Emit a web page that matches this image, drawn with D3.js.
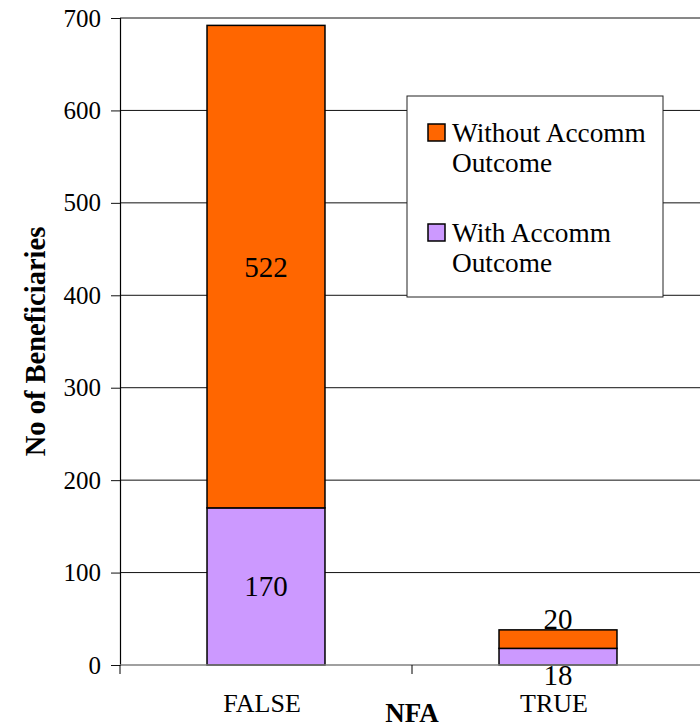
<!DOCTYPE html>
<html>
<head>
<meta charset="utf-8">
<script src="https://cdn.jsdelivr.net/npm/d3@7"></script>
<style>
  body { margin: 0; background: #fff; }
  svg { display: block; font-family: "Liberation Serif", "Times New Roman", serif; }
</style>
</head>
<body>
<div id="chart"></div>
<script>
var categories = ['FALSE', 'TRUE'];
var seriesNames = ['With Accomm Outcome', 'Without Accomm Outcome'];
var withAccomm = [170, 18];
var withoutAccomm = [522, 20];
var yTicks = [0, 100, 200, 300, 400, 500, 600, 700];
var colors = ['#CC99FF', '#FF6600'];

var width = 700, height = 728;
var plot = {left: 120, right: 704, top: 18, bottom: 665};

var svg = d3.select('#chart').append('svg')
  .attr('width', width)
  .attr('height', height);

var x = d3.scaleBand()
  .domain(categories)
  .range([plot.left, plot.right])
  .paddingInner(0.596)
  .paddingOuter(0.298);

var y = d3.scaleLinear()
  .domain([0, 700])
  .range([plot.bottom, plot.top]);

// gridlines
svg.append('g').selectAll('line')
  .data(yTicks.filter(function(d) { return d > 0; }))
  .enter().append('line')
    .attr('x1', plot.left).attr('x2', plot.right)
    .attr('y1', function(d) { return y(d); })
    .attr('y2', function(d) { return y(d); })
    .attr('stroke', '#111')
    .attr('stroke-width', 1);

// y axis
var yAxis = svg.append('g')
  .attr('transform', 'translate(' + plot.left + ',0)')
  .call(d3.axisLeft(y).tickValues(yTicks).tickSize(9).tickPadding(10).tickFormat(d3.format('d')));
yAxis.select('.domain').attr('stroke', '#000').attr('stroke-width', 1.2);
yAxis.selectAll('.tick line').attr('stroke', '#111');
yAxis.selectAll('text')
  .attr('font-family', '"Liberation Serif", serif')
  .attr('font-size', 25)
  .attr('fill', '#000');

// stacked bars
var stack = d3.stack().keys([0, 1]).value(function(d, k) { return d[k]; });
var rows = categories.map(function(c, i) { return [withAccomm[i], withoutAccomm[i]]; });
rows.forEach(function(r, i) { r.cat = categories[i]; });
var layers = stack(rows);

var groups = svg.append('g').selectAll('g')
  .data(layers)
  .enter().append('g')
    .attr('fill', function(d, i) { return colors[i]; });

groups.selectAll('rect')
  .data(function(d) { return d; })
  .enter().append('rect')
    .attr('x', function(d) { return x(d.data.cat); })
    .attr('width', x.bandwidth())
    .attr('y', function(d) { return y(d[1]); })
    .attr('height', function(d) { return y(d[0]) - y(d[1]); })
    .attr('stroke', '#000')
    .attr('stroke-width', 1.5);

// data labels
layers.forEach(function(layer, li) {
  svg.append('g').selectAll('text')
    .data(layer)
    .enter().append('text')
      .attr('x', function(d) { return x(d.data.cat) + x.bandwidth() / 2; })
      .attr('y', function(d) {
        var h = y(d[0]) - y(d[1]);
        if (h > 30) return (y(d[0]) + y(d[1])) / 2 + 10;
        return li === 1 ? y(d[1]) - 1 : y(d[0]) + 20;
      })
      .attr('text-anchor', 'middle')
      .attr('font-size', 29)
      .attr('fill', '#000')
      .text(function(d) { return d[1] - d[0]; });
});

// x axis
svg.append('line')
  .attr('x1', plot.left).attr('x2', plot.right)
  .attr('y1', y(0)).attr('y2', y(0))
  .attr('stroke', '#808080').attr('stroke-width', 1.5);

var bounds = [plot.left].concat(categories.map(function(c) { return x(c) - x.step() * x.paddingInner() / 2 + x.step(); }));
svg.append('g').selectAll('line')
  .data(bounds)
  .enter().append('line')
    .attr('x1', function(d) { return d; }).attr('x2', function(d) { return d; })
    .attr('y1', y(0)).attr('y2', y(0) + 9)
    .attr('stroke', '#000');

svg.append('g').selectAll('text')
  .data(categories)
  .enter().append('text')
    .attr('x', function(d) { return x(d) + x.bandwidth() / 2 - 4; })
    .attr('y', 712)
    .attr('text-anchor', 'middle')
    .attr('font-size', 26)
    .text(function(d) { return d; });

// axis titles
svg.append('text')
  .attr('x', (plot.left + plot.right) / 2)
  .attr('y', 722)
  .attr('text-anchor', 'middle')
  .attr('font-size', 27)
  .attr('font-weight', 'bold')
  .text('NFA');

svg.append('text')
  .attr('transform', 'translate(45,' + ((plot.top + plot.bottom) / 2) + ') rotate(-90)')
  .attr('text-anchor', 'middle')
  .attr('font-size', 28.5)
  .attr('font-weight', 'bold')
  .text('No of Beneficiaries');

// legend
var legend = svg.append('g').attr('transform', 'translate(407,96)');
legend.append('rect')
  .attr('width', 256).attr('height', 201)
  .attr('fill', '#fff').attr('stroke', '#222').attr('stroke-width', 1);

var legendItems = [
  {name: seriesNames[1], color: colors[1]},
  {name: seriesNames[0], color: colors[0]}
];
var items = legend.selectAll('g.item')
  .data(legendItems)
  .enter().append('g')
    .attr('class', 'item')
    .attr('transform', function(d, i) { return 'translate(21,' + (28 + i * 100) + ')'; });

items.append('rect')
  .attr('width', 17).attr('height', 17)
  .attr('fill', function(d) { return d.color; })
  .attr('stroke', '#000').attr('stroke-width', 1.5);

items.append('text')
  .attr('x', 24)
  .attr('y', 18)
  .attr('font-size', 27.3)
  .each(function(d) {
    var words = d.name.split(' ');
    var t = d3.select(this);
    t.append('tspan').attr('x', 24).attr('dy', 0).text(words.slice(0, 2).join(' '));
    t.append('tspan').attr('x', 24).attr('dy', 30).text(words.slice(2).join(' '));
  });
</script>
</body>
</html>
